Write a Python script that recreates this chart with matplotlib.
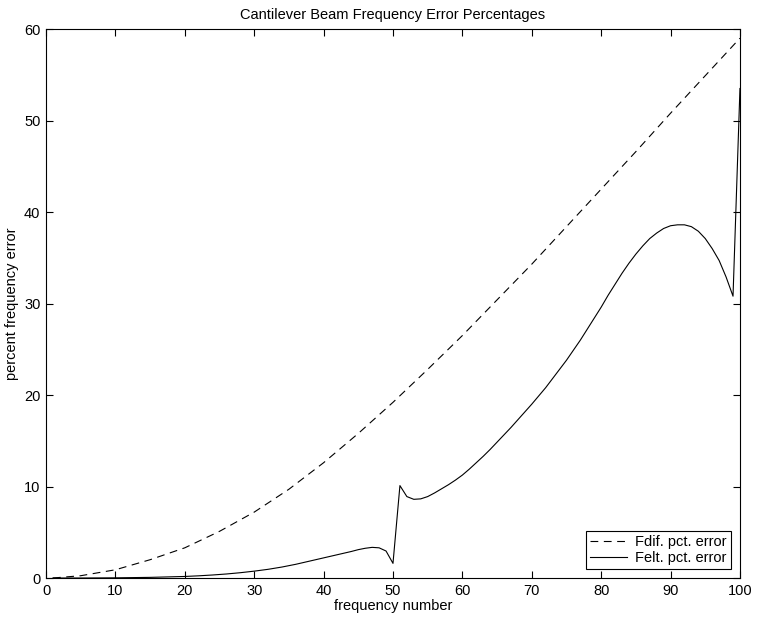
import matplotlib
matplotlib.use('Agg')
import matplotlib.pyplot as plt
from matplotlib import rcParams

rcParams['font.family'] = ['Liberation Sans', 'DejaVu Sans']
rcParams['font.size'] = 10.5

# frequency number vs percent error
fdif_x = [1, 5, 10, 15, 20, 25, 30, 35, 40, 45, 50, 55, 60, 65, 70, 75, 80, 85, 90, 95, 100]
fdif_err = [0.0, 0.25, 0.9, 2.0, 3.3, 5.1, 7.2, 9.7, 12.6, 15.8, 19.2, 22.8, 26.5, 30.4,
            34.3, 38.4, 42.5, 46.6, 50.8, 54.9, 59.0]

felt_x = [1, 5, 10, 15, 20, 22, 24, 26, 28, 30, 32, 34, 36, 38, 40, 42, 44, 45, 46, 47, 48, 49, 50,
          51, 52, 53, 54, 55, 56, 57, 58, 59, 60, 61, 62, 63, 64, 65, 66, 67, 68, 69, 70,
          71, 72, 73, 74, 75, 76, 77, 78, 79, 80, 81, 82, 83, 84, 85, 86, 87, 88, 89, 90,
          91, 92, 93, 94, 95, 96, 97, 98, 99, 100]
felt_err = [0.0, 0.0, 0.02, 0.07, 0.17, 0.24, 0.33, 0.44, 0.58, 0.75, 0.95, 1.2, 1.5, 1.85, 2.2,
            2.55, 2.9, 3.1, 3.25, 3.35, 3.3, 2.95, 1.6,
            10.1, 8.9, 8.6, 8.65, 8.9, 9.3, 9.75, 10.2, 10.7, 11.25, 11.9, 12.6, 13.3, 14.05, 14.85,
            15.65, 16.45, 17.3, 18.15, 19.0,
            19.9, 20.8, 21.8, 22.8, 23.8, 24.9, 26.0, 27.2, 28.4, 29.6, 30.9, 32.1, 33.3, 34.4,
            35.4, 36.3, 37.1, 37.7, 38.2, 38.5,
            38.6, 38.6, 38.4, 37.9, 37.1, 36.0, 34.7, 32.9, 30.8, 53.5]

fig = plt.figure(figsize=(7.58, 6.24), dpi=100)
ax = fig.add_axes([0.0607, 0.0737, 0.9155, 0.8798])

ax.plot(fdif_x, fdif_err, color='black', lw=0.8, linestyle=(0, (7, 5)), label='Fdif. pct. error')
ax.plot(felt_x, felt_err, color='black', lw=0.8, label='Felt. pct. error')

ax.set_xlim(0, 100)
ax.set_ylim(0, 60)
ax.set_xticks(range(0, 101, 10))
ax.set_yticks(range(0, 61, 10))
ax.tick_params(direction='in', length=5, width=0.8, top=True, right=True, pad=4)
for s in ax.spines.values():
    s.set_linewidth(0.8)

ax.set_title('Cantilever Beam Frequency Error Percentages', fontsize=10.5, pad=7)
ax.set_xlabel('frequency number', labelpad=1)
ax.set_ylabel('percent frequency error', labelpad=4)

leg = ax.legend(loc='lower right', fancybox=False, framealpha=1, edgecolor='black',
                borderaxespad=0.6, handlelength=2.5, handletextpad=0.6,
                borderpad=0.3, labelspacing=0.1)
leg.get_frame().set_linewidth(0.8)

fig.savefig('out.png', dpi=100)
